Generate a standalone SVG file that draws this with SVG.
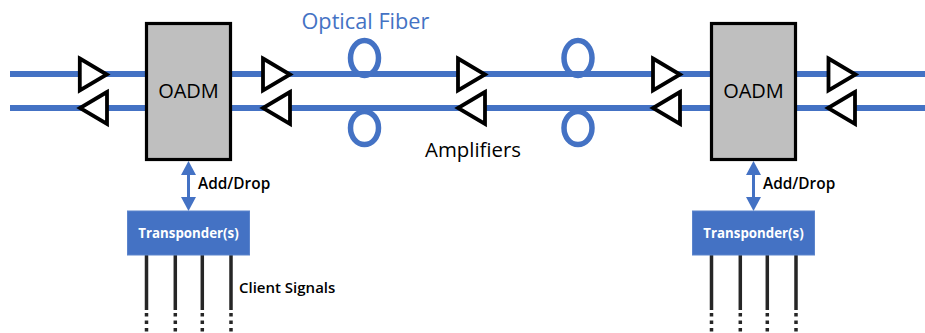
<svg xmlns="http://www.w3.org/2000/svg" width="925" height="333" viewBox="0 0 925 333">
<style>
.f{fill:none;stroke:#4472c4;stroke-width:6}
.loop{fill:none;stroke:#4472c4;stroke-width:5.5}
.amp{fill:#fff;stroke:#000;stroke-width:3.8;stroke-linejoin:miter}
.box{fill:#bfbfbf;stroke:#000;stroke-width:3.2}
.tp{fill:#4472c4;stroke:#5b84cc;stroke-width:1}
.arr{fill:none;stroke:#4472c4;stroke-width:3}
.ah{fill:#4472c4}
.c{fill:none;stroke:#262626;stroke-width:3.5}
.d{fill:none;stroke:#262626;stroke-width:3.5;stroke-dasharray:3.5 4}
text{font-family:"Open Sans","Noto Sans","Liberation Sans",sans-serif}
.n{font-size:20px;fill:#000;text-anchor:middle}
.b{font-weight:600;fill:#000}
.t{font-size:13.300px;font-weight:700;fill:#fff;text-anchor:middle}
</style>
<defs>
<polygon id="ar" class="amp" points="0,-16 27,0 0,16"/>
<polygon id="al" class="amp" points="0,-16 -27,0 0,16"/>
</defs>
<g id="connectors">
<line class="f" x1="10" y1="74" x2="925" y2="74"/>
<line class="f" x1="10" y1="108" x2="925" y2="108"/>
<ellipse class="loop" cx="364.5" cy="58" rx="14" ry="17.5"/>
<ellipse class="loop" cx="364.5" cy="128" rx="14" ry="16.5"/>
<ellipse class="loop" cx="578" cy="58" rx="14" ry="17.5"/>
<ellipse class="loop" cx="578" cy="128" rx="14" ry="16.5"/>
<line class="arr" x1="188.5" y1="170" x2="188.5" y2="202"/>
<polygon class="ah" points="188.5,161 181,175 196,175"/>
<polygon class="ah" points="188.5,211 181,197 196,197"/>
<line class="arr" x1="753.5" y1="170" x2="753.5" y2="202"/>
<polygon class="ah" points="753.5,161 746,175 761,175"/>
<polygon class="ah" points="753.5,211 746,197 761,197"/>
<path class="c" d="M146.500 255V310M175.300 255V310M202.300 255V310M231 255V310M711.500 255V310M740.300 255V310M767.300 255V310M796 255V310"/>
<path class="d" d="M146.500 313V333M175.300 313V333M202.300 313V333M231 313V333M711.500 313V333M740.300 313V333M767.300 313V333M796 313V333"/>
</g>
<g id="amp-1"><use href="#ar" x="79.800" y="74.500"/><use href="#al" x="107" y="108"/></g>
<g id="amp-2"><use href="#ar" x="263" y="74.500"/><use href="#al" x="290" y="108"/></g>
<g id="amp-3"><use href="#ar" x="458" y="74.500"/><use href="#al" x="485" y="108"/></g>
<g id="amp-4"><use href="#ar" x="653" y="74.500"/><use href="#al" x="680" y="108"/></g>
<g id="amp-5"><use href="#ar" x="828.500" y="74.500"/><use href="#al" x="855" y="108"/></g>
<g id="oadm-1"><rect class="box" x="146.500" y="23.500" width="84" height="136"/><text class="n" x="188.500" y="98">OADM</text></g>
<g id="oadm-2"><rect class="box" x="711.500" y="23.500" width="84" height="136"/><text class="n" x="753.500" y="98">OADM</text></g>
<g id="transponder-1"><rect class="tp" x="127.500" y="211" width="122" height="44"/><text class="t" x="188.500" y="238">Transponder(s)</text></g>
<g id="transponder-2"><rect class="tp" x="692.500" y="211" width="122" height="44"/><text class="t" x="753.500" y="238">Transponder(s)</text></g>
<g id="labels">
<text x="301.500" y="29" font-size="21.700" fill="#4472c4">Optical Fiber</text>
<text x="425" y="157" font-size="20.400" fill="#000">Amplifiers</text>
<text class="b" font-size="15.400" x="198" y="189">Add/Drop</text>
<text class="b" font-size="15.400" x="763" y="189">Add/Drop</text>
<text class="b" font-size="15" x="239" y="293">Client Signals</text>
</g>
</svg>
